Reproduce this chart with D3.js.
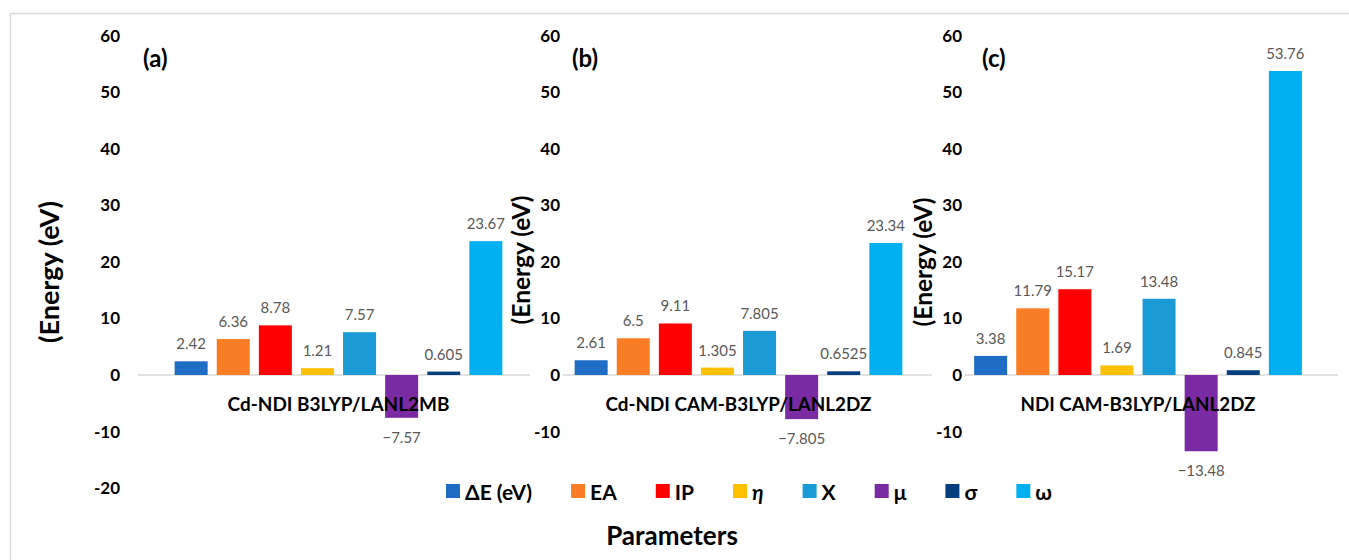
<!DOCTYPE html>
<html>
<head>
<meta charset="utf-8">
<script src="https://cdn.jsdelivr.net/npm/d3@7"></script>
<style>
  html, body { margin: 0; padding: 0; background: #fff; }
  svg { display: block; }
</style>
</head>
<body>
<svg id="chart" width="1349" height="560"></svg>
<script>
// ---------- DATA ----------
const categories = ["Cd-NDI B3LYP/LANL2MB", "Cd-NDI CAM-B3LYP/LANL2DZ", "NDI CAM-B3LYP/LANL2DZ"];
const panelLabels = ["(a)", "(b)", "(c)"];
const series = ["ΔE (eV)", "EA", "IP", "η", "X", "μ", "σ", "ω"];
const valuesA = [2.42, 6.36, 8.78, 1.21, 7.57, -7.57, 0.605, 23.67];
const valuesB = [2.61, 6.5, 9.11, 1.305, 7.805, -7.805, 0.6525, 23.34];
const valuesC = [3.38, 11.79, 15.17, 1.69, 13.48, -13.48, 0.845, 53.76];
const ticksA = [-20, -10, 0, 10, 20, 30, 40, 50, 60];
const ticksBC = [-10, 0, 10, 20, 30, 40, 50, 60];
const yTitle = "(Energy (eV)";
const xTitle = "Parameters";

// ---------- STYLE / LAYOUT ----------
const colors = ["#1f6cc4", "#f97d24", "#fe0000", "#ffc000", "#1b9bd6", "#7a2aa2", "#033f7e", "#00b0f0"];
const FONT = "Lato, 'Open Sans', 'DejaVu Sans', sans-serif";
const panels = [
  { values: valuesA, ticks: ticksA, center: 338.5, axisX: 120, zero: [138, 530], ylX: 48, ylY: 272, ylSize: 27, plX: 143, catW: 222 },
  { values: valuesB, ticks: ticksBC, center: 738.5, axisX: 560, zero: [563, 932], ylX: 520, ylY: 260, ylSize: 24.5, plX: 572, catW: 266 },
  { values: valuesC, ticks: ticksBC, center: 1138, axisX: 962, zero: [965, 1338], ylX: 922, ylY: 262, ylSize: 24.5, plX: 982, catW: 235 }
];
const step = 42.1;

const svg = d3.select("#chart");
svg.append("rect").attr("width", 1349).attr("height", 560).attr("fill", "#fff");
// outer frame (top & left visible)
svg.append("rect").attr("x", 10.5).attr("y", 13.5).attr("width", 1360).attr("height", 600)
  .attr("fill", "none").attr("stroke", "#d9d9d9").attr("stroke-width", 1.5);

const y = d3.scaleLinear().domain([-20, 60]).range([488.1, 35.7]);

panels.forEach((p, i) => {
  const g = svg.append("g");
  const x = d3.scaleBand().domain(series)
    .range([p.center - 4 * step, p.center + 4 * step])
    .paddingInner(0.216).paddingOuter(0.108);

  // y axis labels
  const axis = d3.axisLeft(y).tickValues(p.ticks).tickSize(0).tickPadding(0)
    .tickFormat(d => String(d));
  const ag = g.append("g").attr("transform", `translate(${p.axisX},0)`).call(axis);
  ag.select(".domain").remove();
  ag.selectAll("text").attr("font-family", FONT).attr("font-size", 17).attr("font-weight", "bold").attr("fill", "#000");

  // zero line
  g.append("line").attr("x1", p.zero[0]).attr("x2", p.zero[1])
    .attr("y1", y(0)).attr("y2", y(0)).attr("stroke", "#d9d9d9").attr("stroke-width", 1.3);

  // bars
  g.selectAll("rect.bar").data(p.values).enter().append("rect")
    .attr("class", "bar")
    .attr("x", (d, j) => x(series[j]))
    .attr("width", x.bandwidth())
    .attr("y", d => y(Math.max(0, d)))
    .attr("height", d => Math.abs(y(d) - y(0)))
    .attr("fill", (d, j) => colors[j]);

  // category label (drawn over bars)
  const ct = g.append("text").attr("x", p.center).attr("y", 411)
    .attr("text-anchor", "middle").attr("font-family", FONT).attr("font-weight", "bold")
    .attr("font-size", 21).attr("fill", "#000").text(categories[i]);
  const w = ct.node().getComputedTextLength();
  ct.attr("font-size", 21 * p.catW / w);

  // value labels
  g.selectAll("text.val").data(p.values).enter().append("text")
    .attr("class", "val")
    .attr("x", (d, j) => x(series[j]) + x.bandwidth() / 2)
    .attr("y", d => d >= 0 ? y(d) - 12 : y(d) + 25)
    .attr("text-anchor", "middle").attr("font-family", FONT).attr("font-size", 15)
    .attr("fill", "#595959")
    .text(d => String(d).replace("-", "\u2212"));

  // y title
  g.append("text").attr("transform", `translate(${p.ylX},${p.ylY}) rotate(-90)`)
    .attr("text-anchor", "middle").attr("dominant-baseline", "central")
    .attr("font-family", FONT).attr("font-weight", "bold").attr("font-size", p.ylSize)
    .attr("fill", "#000").text(yTitle);

  // panel label
  g.append("text").attr("x", p.plX).attr("y", 67)
    .attr("font-family", FONT).attr("font-weight", "bold").attr("font-size", 24)
    .attr("fill", "#000").text(panelLabels[i]);
});

// legend: items spread between left of first swatch and end of last text
const lg = svg.append("g");
const legStart = 446, legEnd = 1052, sw = 14, txtOff = 19;
const items = series.map((s, j) => {
  const t = lg.append("text").attr("y", 491)
    .attr("dominant-baseline", "central")
    .attr("font-family", FONT).attr("font-weight", "bold").attr("font-size", 21)
    .attr("font-style", s === "η" ? "italic" : "normal")
    .attr("fill", "#000").text(s);
  return { t, w: t.node().getComputedTextLength() };
});
const totalW = d3.sum(items, d => d.w + txtOff);
const gap = (legEnd - legStart - totalW) / (series.length - 1);
let lx = legStart;
items.forEach((it, j) => {
  lg.append("rect").attr("x", lx).attr("y", 484).attr("width", sw).attr("height", sw).attr("fill", colors[j]);
  it.t.attr("x", lx + txtOff);
  lx += txtOff + it.w + gap;
});

// x title
svg.append("text").attr("x", 672).attr("y", 545).attr("text-anchor", "middle")
  .attr("font-family", FONT).attr("font-weight", "bold").attr("font-size", 26)
  .attr("fill", "#000").text(xTitle);
</script>
</body>
</html>
